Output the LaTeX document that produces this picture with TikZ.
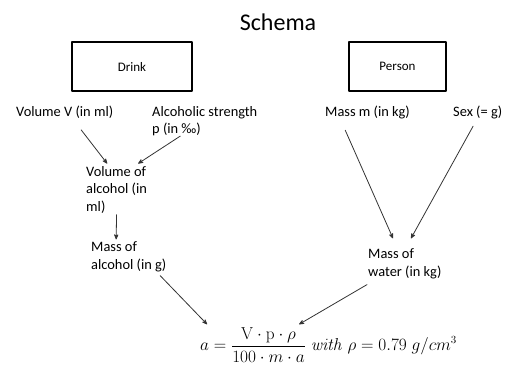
\documentclass[tikz,border=0pt]{standalone}
\usepackage[no-math]{fontspec}
\usepackage{amsmath}
\usetikzlibrary{arrows}
\newfontfamily\calibri{Carlito}

\begin{document}
\begin{tikzpicture}[line cap=round,line join=round,>=stealth',x=1pt,y=-1pt,
  lbl/.style={font=\calibri\fontsize{14.4}{17.5}\selectfont,align=left,inner sep=0pt,anchor=west},
  box/.style={draw,line width=1.1pt,minimum width=120pt,minimum height=49pt,font=\calibri\fontsize{13}{15}\selectfont},
  arr/.style={->,line width=0.8pt,black!80}]
\useasboundingbox (0,0) rectangle (507,366);
\node[font=\calibri\fontsize{24}{28}\selectfont] (title) at (278,22) {Schema};
\node[box] (drink) at (132,66.5) {Drink};
\node[box,minimum width=97pt] (person) at (397.5,66.5) {Person};
\node[lbl] (volV) at (16,112) {Volume V (in ml)};
\node[lbl] (strength) at (152,121) {Alcoholic strength\\p (in ‰)};
\node[lbl] (massM) at (325,112) {Mass m (in kg)};
\node[lbl] (sex) at (453,112) {Sex (= g)};
\node[lbl] (volAlc) at (86,190) {Volume of\\alcohol (in\\ml)};
\node[lbl] (massAlc) at (91,257) {Mass of\\alcohol (in g)};
\node[lbl] (water) at (368,264) {Mass of\\water (in kg)};
\node[inner sep=0pt,anchor=base west,font=\fontsize{16.1}{19}\selectfont] (formula) at (200,351)
  {$\displaystyle a=\frac{\mathrm{V}\cdot\mathrm{p}\cdot\rho}{100\cdot m\cdot a}\ \mathit{with}\ \rho=0.79\ g/cm^{3}$};
\draw[arr] ([xshift=16.5pt,yshift=-11.5pt]volV.south) -- ([xshift=-9.4pt,yshift=2.75pt]volAlc.north);
\draw[arr] ([xshift=-24.5pt]strength.south) -- ([xshift=21.6pt,yshift=2.75pt]volAlc.north);
\draw[arr] ([yshift=-1pt]volAlc.south) -- ([xshift=-12.6pt,yshift=2.5pt]massAlc.north);
\draw[arr] ([xshift=31.4pt,yshift=-3.5pt]massAlc.south) -- ([xshift=-121.5pt,yshift=3pt]formula.north);
\draw[arr] ([xshift=-22.3pt,yshift=-11.5pt]massM.south) -- ([xshift=-11.8pt,yshift=10.5pt]water.north);
\draw[arr] ([xshift=-4.6pt,yshift=-7.5pt]sex.south) -- ([xshift=6.2pt,yshift=10.5pt]water.north);
\draw[arr] ([xshift=-37.8pt,yshift=-5.5pt]water.south) -- ([xshift=-29.5pt,yshift=3pt]formula.north);
\end{tikzpicture}
\end{document}
